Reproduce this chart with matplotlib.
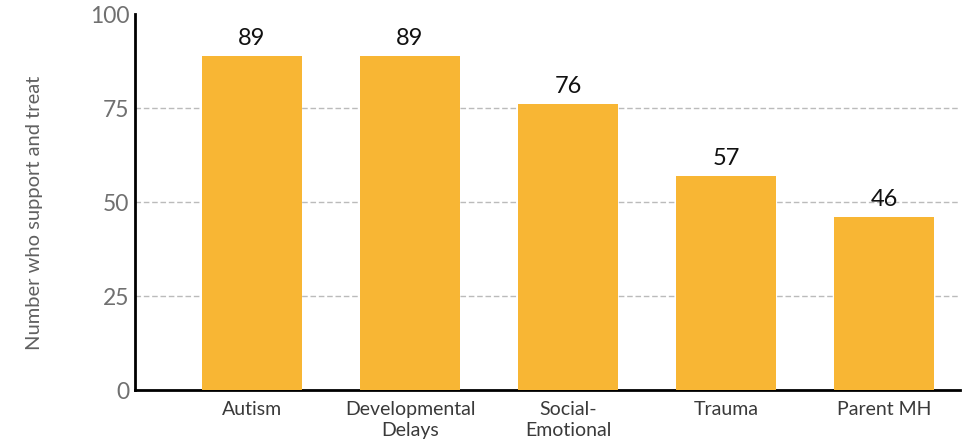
import matplotlib.pyplot as plt

# Data
categories = ["Autism", "Developmental\nDelays", "Social-\nEmotional", "Trauma", "Parent MH"]
counts = [89, 89, 76, 57, 46]
y_ticks = [0, 25, 50, 75, 100]

bar_color = "#F8B634"
family = ["Lato", "DejaVu Sans"]

fig = plt.figure(figsize=(9.64, 4.44), dpi=100)
ax = fig.add_axes([0.140, 0.1216, 0.856, 0.8464])

x = range(len(categories))
bars = ax.bar(x, counts, width=0.633, color=bar_color, zorder=3)

# value labels above bars
for rect, val in zip(bars, counts):
    ax.annotate(str(val), (rect.get_x() + rect.get_width() / 2, rect.get_height()),
                xytext=(0, 5), textcoords="offset points", ha="center", va="bottom",
                fontsize=17, color="#111111", family=family)

ax.set_xlim(-0.74, 4.48)
ax.set_ylim(0, 100)
ax.set_yticks(y_ticks)
ax.set_yticklabels([str(t) for t in y_ticks], fontsize=16.5, color="#707070", family=family)
ax.set_xticks(list(x))
ax.set_xticklabels(categories, fontsize=14, color="#3a3a3a", family=family,
                   linespacing=1.25)
ax.tick_params(axis="both", length=0)
ax.tick_params(axis="x", pad=8)
ax.tick_params(axis="y", pad=4)

for t in [25, 50, 75]:
    ax.axhline(t, color="#BBBBBB", linestyle=(0, (4, 2)), linewidth=1, zorder=1)

for side in ["top", "right"]:
    ax.spines[side].set_visible(False)
for side in ["left", "bottom"]:
    ax.spines[side].set_linewidth(2)
    ax.spines[side].set_color("black")

fig.text(0.036, 0.52, "Number who support and treat", rotation=90, ha="center", va="center",
         fontsize=14.5, color="#606060", family=family)

fig.savefig("out.png", dpi=100)
